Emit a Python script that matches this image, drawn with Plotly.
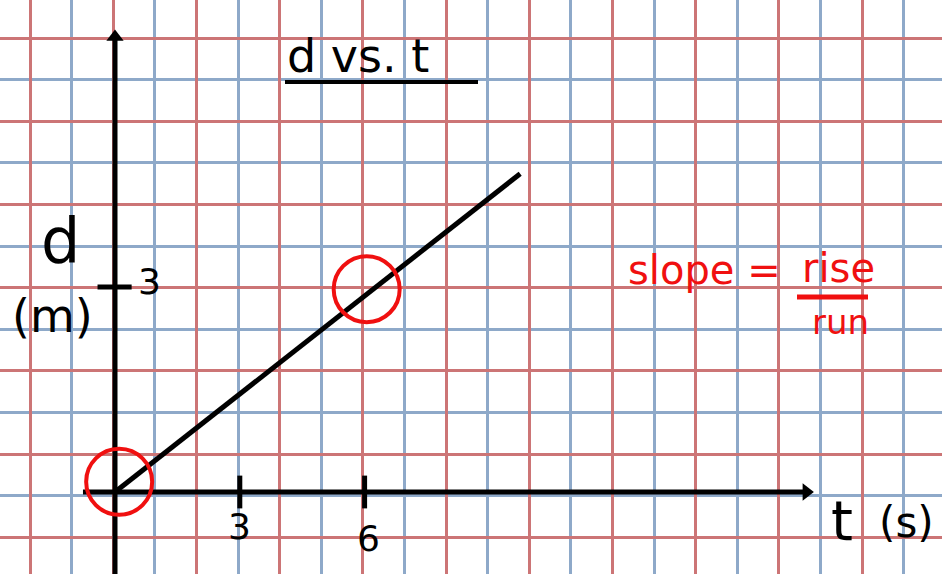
import plotly.graph_objects as go

W, H = 942, 574

# hand-drawn d vs t line (t in s, d in m)
t_line = [0, 9.74]
d_line = [0, 4.66]

# the two circled points
t_circled = [0.1, 6.05]
d_circled = [0.15, 2.97]

# axis tick marks and their labels
t_ticks = [3, 6]
t_tick_labels = ["3", "6"]
d_ticks = [3]
d_tick_labels = ["3"]

# extent of the drawn axes (end = centre of the arrowhead)
t_axis = [-0.77, 16.62]
d_axis = [-1.2, 6.66]

# scale of the sketch on the page
PX_T = 41.6   # px per second
PX_D = 68.3   # px per metre
X0, Y0 = 115, 492   # origin in page pixels
GRID = 41.6   # grid paper spacing in px
RED_X, RED_Y = 30, 38   # first red grid line

RED = "#f01010"
INK = "#000000"
GRID_RED = "#cc7576"
GRID_BLUE = "#8ea9c9"


def px(x):
    return x / W


def py(y):
    return 1 - y / H


fig = go.Figure()

# axes with arrowheads
fig.add_trace(go.Scatter(x=[0, 0], y=d_axis, mode="lines",
                         line=dict(color=INK, width=5)))
fig.add_trace(go.Scatter(x=[0], y=[d_axis[1]], mode="markers",
                         marker=dict(symbol="triangle-up", size=15, color=INK)))
fig.add_trace(go.Scatter(x=t_axis, y=[0, 0], mode="lines",
                         line=dict(color=INK, width=5)))
fig.add_trace(go.Scatter(x=[t_axis[1]], y=[0], mode="markers",
                         marker=dict(symbol="triangle-right", size=15, color=INK)))

# tick marks
for t in t_ticks:
    fig.add_trace(go.Scatter(x=[t, t], y=[-0.24, 0.24], mode="lines",
                             line=dict(color=INK, width=5)))
for d in d_ticks:
    fig.add_trace(go.Scatter(x=[-0.42, 0.4], y=[d, d], mode="lines",
                             line=dict(color=INK, width=5)))

# the data line
fig.add_trace(go.Scatter(x=t_line, y=d_line, mode="lines",
                         line=dict(color=INK, width=5)))

# red circles round the points
fig.add_trace(go.Scatter(x=t_circled, y=d_circled, mode="markers",
                         marker=dict(symbol="circle-open", size=66, color=RED,
                                     line=dict(color=RED, width=4))))

ann = []
for t, lab in zip(t_ticks, t_tick_labels):
    ann.append(dict(x=t, y=0, xref="x", yref="y", text=lab, showarrow=False,
                    yshift=-34 - (12 if t == 6 else 0), xshift=4 if t == 6 else 0,
                    font=dict(size=36, color=INK)))
for d, lab in zip(d_ticks, d_tick_labels):
    ann.append(dict(x=0, y=d, xref="x", yref="y", text=lab, showarrow=False,
                    xshift=34, yshift=6, font=dict(size=36, color=INK)))

hand = "DejaVu Sans"
texts = [
    ("d vs. t", 358, 56, 46, INK),
    ("d", 60, 240, 62, INK),
    ("(m)", 52, 316, 46, INK),
    ("t", 842, 520, 56, INK),
    ("(s)", 906, 522, 42, INK),
    ("slope =", 704, 270, 40, RED),
    ("rise", 838, 268, 40, RED),
    ("run", 840, 322, 34, RED),
]
for txt, x, y, size, col in texts:
    ann.append(dict(x=px(x), y=py(y), xref="paper", yref="paper", text=txt,
                    showarrow=False, xanchor="center", yanchor="middle",
                    font=dict(family=hand, size=size, color=col)))

fig.update_layout(annotations=ann)

# title underline and fraction bar
fig.add_shape(type="line", xref="paper", yref="paper",
              x0=px(285), x1=px(478), y0=py(82), y1=py(82),
              line=dict(color=INK, width=4))
fig.add_shape(type="line", xref="paper", yref="paper",
              x0=px(797), x1=px(868), y0=py(297), y1=py(297),
              line=dict(color=RED, width=5))

fig.update_xaxes(range=[-X0 / PX_T, (W - X0) / PX_T],
                 showline=False, zeroline=False, showticklabels=False, ticks="",
                 showgrid=True, gridcolor=GRID_RED, gridwidth=2.5,
                 tick0=(RED_X - X0) / PX_T, dtick=2 * GRID / PX_T,
                 minor=dict(showgrid=True, gridcolor=GRID_BLUE, gridwidth=2.5,
                            tick0=(RED_X - X0) / PX_T, dtick=GRID / PX_T))
fig.update_yaxes(range=[-(H - Y0) / PX_D, Y0 / PX_D],
                 showline=False, zeroline=False, showticklabels=False, ticks="",
                 showgrid=True, gridcolor=GRID_RED, gridwidth=2.5,
                 tick0=(Y0 - RED_Y) / PX_D, dtick=2 * GRID / PX_D,
                 minor=dict(showgrid=True, gridcolor=GRID_BLUE, gridwidth=2.5,
                            tick0=(Y0 - RED_Y) / PX_D, dtick=GRID / PX_D))

fig.update_layout(width=W, height=H, autosize=False,
                  margin=dict(l=0, r=0, t=0, b=0),
                  showlegend=False,
                  plot_bgcolor="white", paper_bgcolor="white",
                  font=dict(family=hand))

fig.write_html("out.html", config={"displayModeBar": False},
               post_script="document.body.style.margin='0';document.body.style.overflow='hidden';")
